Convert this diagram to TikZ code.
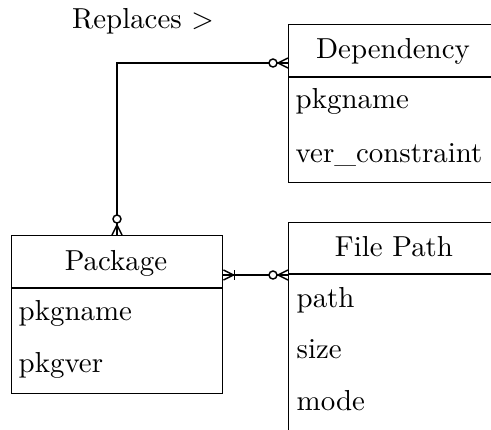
\documentclass[tikz,border=0pt]{standalone}
\usetikzlibrary{calc}
\begin{document}
\begin{tikzpicture}[x=0.346pt,y=-0.346pt,line width=0.5pt,
  entity/.style={draw,inner sep=0pt,anchor=north west,minimum width={212*0.346pt},minimum height={158*0.346pt}},
  title/.style={inner sep=0pt,anchor=base},
  attr/.style={inner sep=0pt,anchor=base west}]
\path[use as bounding box,clip] (0,0) rectangle (491,429);

% entity boxes
\node[entity] (dep) at (288,24) {};
\node[entity,minimum height={210*0.346pt}] (fp) at (288,222) {};
\node[entity,minimum width={211*0.346pt}] (pkg) at (11,235) {};

% header separators
\draw ($(dep.north west)+(0,53)$) -- ($(dep.north east)+(0,53)$);
\draw ($(fp.north west)+(0,52)$) -- ($(fp.north east)+(0,52)$);
\draw ($(pkg.north west)+(0,53)$) -- ($(pkg.north east)+(0,53)$);

% titles and attributes
\node[title] (depT) at (393,58) {Dependency};
\node[attr] (depA) at (295,108) {pkgname};
\node[attr] (depB) at (295,162) {ver\_constraint};

\node[title] (fpT) at (394,256) {File Path};
\node[attr] (fpA) at (296,307) {path};
\node[attr] (fpB) at (296,358) {size};
\node[attr] (fpC) at (296,410) {mode};

\node[title] (pkgT) at (116,270) {Package};
\node[attr] (pkgA) at (18,320) {pkgname};
\node[attr] (pkgB) at (18,372) {pkgver};

\node[title] (rel) at (143,28) {Replaces $>$};

% connector end points
\coordinate (depIn) at ($(dep.north west)+(0,39)$);
\coordinate (pkgTop) at ($(pkg.north west)+(106,0)$);
\coordinate (pkgOut) at ($(pkg.north east)+(0,40)$);
\coordinate (fpIn) at ($(fp.north west)+(0,53)$);

% Replaces: zero-or-many on both ends
\draw (depIn) -- (pkgTop |- depIn) -- (pkgTop);
\draw ($(depIn)+(-10,0)$) -- ($(depIn)+(0,-5)$)
      ($(depIn)+(-10,0)$) -- ($(depIn)+(0,5)$);
\draw[fill=white] ($(depIn)+(-15,0)$) circle[radius=4];
\draw ($(pkgTop)+(0,-10)$) -- ($(pkgTop)+(-5,0)$)
      ($(pkgTop)+(0,-10)$) -- ($(pkgTop)+(5,0)$);
\draw[fill=white] ($(pkgTop)+(0,-16)$) circle[radius=4];

% Package -- File Path: one-or-many to zero-or-many
\draw (pkgOut) -- (fpIn);
\draw ($(pkgOut)+(10,0)$) -- ($(pkgOut)+(0,-5)$)
      ($(pkgOut)+(10,0)$) -- ($(pkgOut)+(0,5)$);
\draw ($(pkgOut)+(11,-5)$) -- ($(pkgOut)+(11,5)$);
\draw ($(fpIn)+(-10,0)$) -- ($(fpIn)+(0,-5)$)
      ($(fpIn)+(-10,0)$) -- ($(fpIn)+(0,5)$);
\draw[fill=white] ($(fpIn)+(-15,0)$) circle[radius=4];
\end{tikzpicture}
\end{document}
